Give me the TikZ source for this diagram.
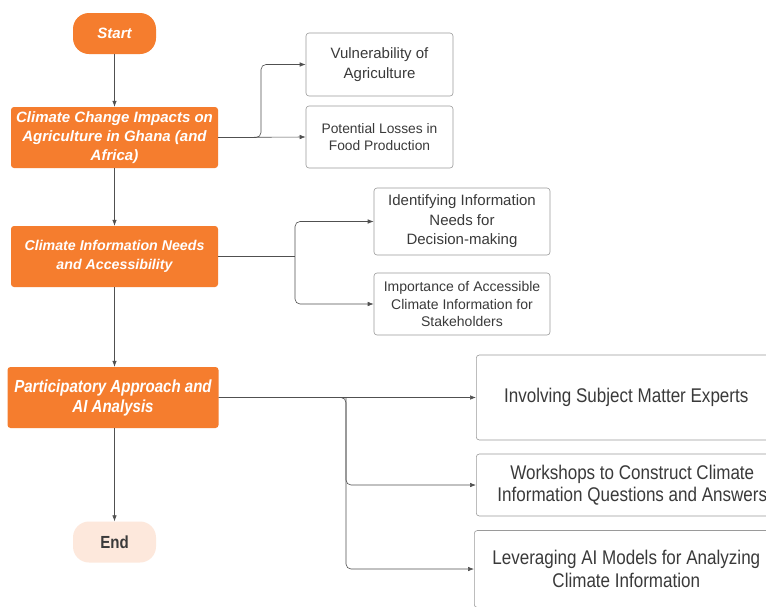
\documentclass[tikz,border=0pt]{standalone}
\usepackage{fontspec}
\setmainfont{Liberation Sans}
\newfontfamily\narrowfont[FakeStretch=0.86]{Liberation Sans}
\usetikzlibrary{arrows.meta}
\definecolor{orng}{HTML}{F57D2E}
\definecolor{peach}{HTML}{FDE8DC}
\definecolor{lin}{HTML}{505050}
\definecolor{bord}{HTML}{9A9A9A}
\definecolor{txt}{HTML}{3A3A3A}
\begin{document}
\begin{tikzpicture}[x=1pt,y=-1pt,
  mainbox/.style={fill=orng, rounded corners=3pt, text=white, align=center, inner sep=0pt,
    font=\fontsize{15}{19}\selectfont\bfseries\itshape, minimum width=207pt, minimum height=61pt},
  pill/.style={rounded corners=16pt, align=center, inner sep=0pt, minimum width=83pt, minimum height=41pt},
  subbox/.style={draw=bord, line width=0.6pt, rounded corners=3pt, fill=white, text=txt, align=center, inner sep=0pt,
    font=\fontsize{15}{20}\selectfont},
  bigbox/.style={draw=bord, line width=0.6pt, rounded corners=3pt, fill=white, text=txt, align=center, inner sep=0pt,
    font=\narrowfont\fontsize{19.8}{22.5}\selectfont, anchor=west},
  conn/.style={draw=lin, line width=0.6pt, -{Latex[length=6pt,width=4.5pt]}},
  branch/.style={conn, rounded corners=5pt}
]
\clip (0,0) rectangle (766,606);
\fill[white] (0,0) rectangle (766,606);

% main column
\node[pill, fill=orng, text=white, font=\fontsize{15}{17}\selectfont\bfseries\itshape] (start) at (114.5,33.5) {Start};
\node[mainbox] (cci) at (114.5,137.5) {Climate Change Impacts on\\Agriculture in Ghana (and\\Africa)};
\node[mainbox, font=\fontsize{14.2}{19.5}\selectfont\bfseries\itshape] (cin) at (114.5,256.5) {Climate Information Needs\\and Accessibility};
\node[mainbox, minimum width=211pt, font=\narrowfont\fontsize{17.5}{20}\selectfont\bfseries\itshape] (par) at (113,397.5) {Participatory Approach and\\AI Analysis};
\node[pill, fill=peach, text=txt, font=\narrowfont\fontsize{17.5}{18}\selectfont\bfseries] (end) at (114.5,542) {End};

% first level sub boxes
\node[subbox, minimum width=147pt, minimum height=63pt] (vul) at (379.5,64.5) {Vulnerability of\\Agriculture};
\node[subbox, minimum width=147pt, minimum height=62pt, font=\fontsize{13.8}{17.5}\selectfont] (pl) at (379.5,137) {Potential Losses in\\Food Production};
\node[subbox, minimum width=176pt, minimum height=67pt, font=\fontsize{15}{19.5}\selectfont] (idn) at (462,221.5) {Identifying Information\\Needs for\\Decision-making};
\node[subbox, minimum width=176pt, minimum height=62pt, font=\fontsize{14}{17.5}\selectfont] (imp) at (462,304) {Importance of Accessible\\Climate Information for\\Stakeholders};

% bottom sub boxes
\node[bigbox, minimum width=300pt, minimum height=85pt] (inv) at (476,397.5) {Involving Subject Matter Experts};
\node[bigbox, minimum width=312pt, minimum height=62pt] (wor) at (476,485) {Workshops to Construct Climate\\Information Questions and Answers};
\node[bigbox, minimum width=304pt, minimum height=77pt] (lev) at (474,569) {Leveraging AI Models for Analyzing\\Climate Information};

% vertical connectors
\draw[conn] (start) -- (cci);
\draw[conn] (cci) -- (cin);
\draw[conn] (cin.south) -- (cin.south |- par.north);
\draw[conn] (par.south -| end.north) -- (end.north);

% branches
\coordinate (j1) at (261,137.5);
\draw[conn] (cci.east) -- (pl.west);
\draw[branch] (cci.east) -- (j1) |- (vul.west);

\coordinate (j2) at (295,256.5);
\draw[draw=lin, line width=0.6pt] (cin.east) -- (j2);
\draw[branch] (j2) |- (idn.west);
\draw[branch] (j2) |- (imp.west);

\coordinate (j3) at (346,397.5);
\draw[conn] (par.east) -- (inv.west);
\draw[branch] (par.east) -- (j3) |- (wor.west);
\draw[branch] (j3) |- (lev.west);
\end{tikzpicture}
\end{document}
